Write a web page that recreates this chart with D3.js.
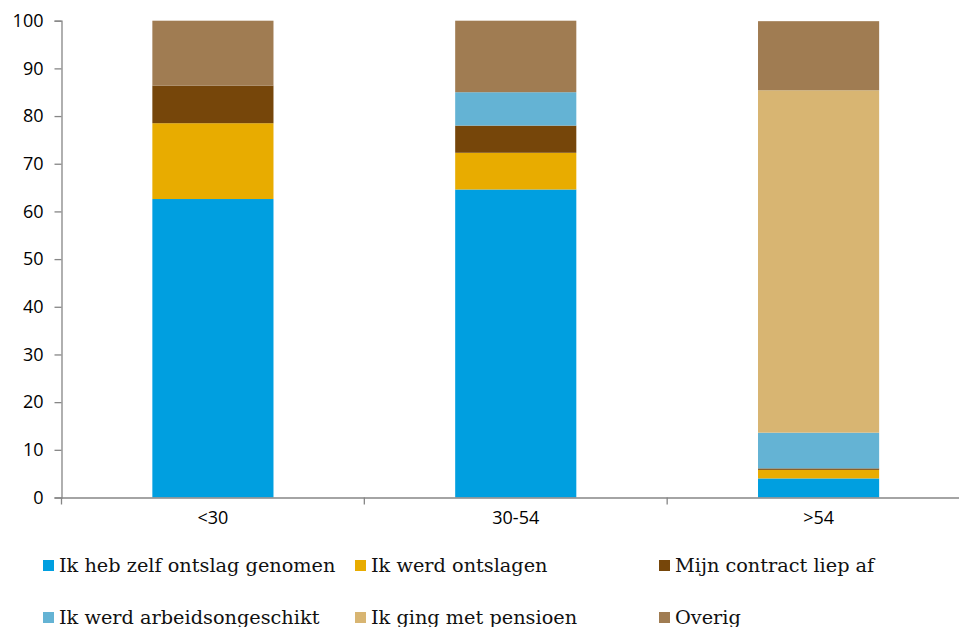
<!DOCTYPE html>
<html><head><meta charset="utf-8">
<script src="https://cdn.jsdelivr.net/npm/d3@7"></script>
<style>body{margin:0;background:#fff}svg{display:block}</style>
</head><body>
<svg id="chart" width="959" height="627"></svg>
<script>
const categories = ["<30", "30-54", ">54"];
const seriesNames = ["Ik heb zelf ontslag genomen", "Ik werd ontslagen", "Mijn contract liep af",
  "Ik werd arbeidsongeschikt", "Ik ging met pensioen", "Overig"];
const seriesColors = ["#009FE0", "#E8AC00", "#76460A", "#64B3D4", "#D8B572", "#A07C52"];
const zelfOntslag = [62.6, 64.6, 4.0];
const ontslagen = [15.9, 7.7, 1.8];
const contractAf = [7.9, 5.7, 0.3];
const arbeidsongeschikt = [0.0, 7.0, 7.5];
const pensioen = [0.0, 0.0, 71.8];
const overig = [13.6, 15.0, 14.5];
const yTicks = [0, 10, 20, 30, 40, 50, 60, 70, 80, 90, 100];

const seriesValues = [zelfOntslag, ontslagen, contractAf, arbeidsongeschikt, pensioen, overig];
const rows = categories.map((c, i) => {
  const r = {cat: c};
  seriesNames.forEach((s, j) => r[s] = seriesValues[j][i]);
  return r;
});

const svg = d3.select("#chart");
const mLeft = 61.5, mRight = 970, mTop = 20.7, mBottom = 497.5;
const x = d3.scaleBand().domain(categories).range([mLeft, mRight]).paddingInner(0).paddingOuter(0);
const y = d3.scaleLinear().domain([0, 100]).range([mBottom, mTop]);
const stack = d3.stack().keys(seriesNames)(rows);
const bw = x.bandwidth() * 0.4;

svg.append("g").selectAll("g").data(stack).join("g")
  .attr("fill", (d, i) => seriesColors[i])
  .selectAll("rect").data(d => d).join("rect")
  .attr("x", d => x(d.data.cat) + (x.bandwidth() - bw) / 2)
  .attr("width", bw)
  .attr("y", d => y(d[1]))
  .attr("height", d => Math.max(0, y(d[0]) - y(d[1])));

const axisColor = "#868686";
// Y axis
const yAxis = svg.append("g").attr("transform", `translate(${mLeft},0)`)
  .call(d3.axisLeft(y).tickValues(yTicks).tickSize(7).tickPadding(11).tickFormat(d3.format("d")));
yAxis.select(".domain").attr("stroke", axisColor).attr("stroke-width", 1.3);
yAxis.selectAll(".tick line").attr("stroke", axisColor).attr("stroke-width", 1.3);
yAxis.selectAll("text").attr("font-family", "'Open Sans', sans-serif").attr("font-size", 18).attr("fill", "#000");

// X axis
const xAxis = svg.append("g").attr("transform", `translate(0,${mBottom})`)
  .call(d3.axisBottom(x).tickSize(0).tickPadding(14));
xAxis.select(".domain").attr("stroke", axisColor).attr("stroke-width", 1.3);
xAxis.selectAll("text").attr("font-family", "'Open Sans', sans-serif").attr("font-size", 18).attr("fill", "#000");
// boundary ticks between categories
const bounds = categories.map(c => x(c));
svg.append("g").selectAll("line").data(bounds).join("line")
  .attr("x1", d => d).attr("x2", d => d)
  .attr("y1", mBottom).attr("y2", mBottom + 7)
  .attr("stroke", axisColor).attr("stroke-width", 1.3);

// Legend
const legendCols = [43, 355, 659];
const legendRows = [572, 624];
const lg = svg.append("g").selectAll("g").data(seriesNames).join("g")
  .attr("transform", (d, i) => `translate(${legendCols[i % 3]},${legendRows[Math.floor(i / 3)]})`);
lg.append("rect").attr("x", 0).attr("y", -12).attr("width", 11).attr("height", 11)
  .attr("fill", (d, i) => seriesColors[i]);
lg.append("text").attr("x", 16).attr("y", 0)
  .attr("font-family", "'DejaVu Serif', serif").attr("font-size", 19.3).attr("fill", "#111")
  .text(d => d);
</script>
</body></html>
